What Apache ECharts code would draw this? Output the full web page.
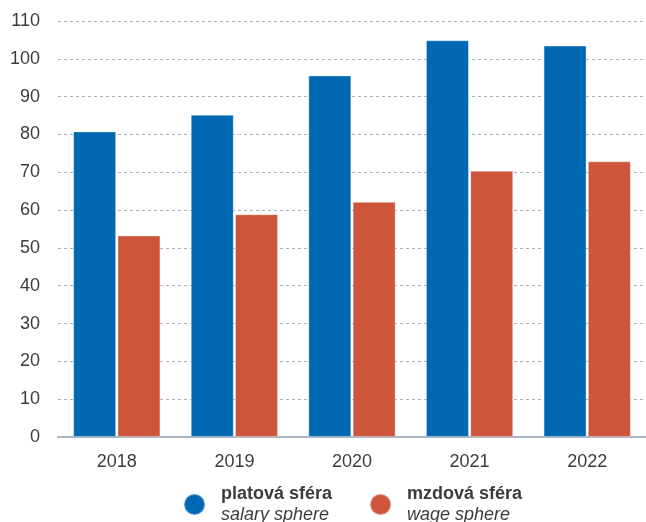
<!DOCTYPE html>
<html>
<head>
<meta charset="utf-8">
<script src="https://cdn.jsdelivr.net/npm/echarts@6/dist/echarts.min.js"></script>
<style>
  html, body { margin: 0; padding: 0; background: #fff; }
  #chart { width: 646px; height: 522px; }
</style>
</head>
<body>
<div id="chart"></div>
<script>
// years on the x axis
const years = ['2018', '2019', '2020', '2021', '2022'];
// salary sphere (platová sféra)
const salary = [80.8, 85.2, 95.6, 104.9, 103.5];
// wage sphere (mzdová sféra)
const wage = [53.3, 58.9, 62.2, 70.4, 72.9];

const names = ['platová sféra', 'mzdová sféra'];
const subNames = { 'platová sféra': 'salary sphere', 'mzdová sféra': 'wage sphere' };

const font = '"Liberation Sans", Arial, sans-serif';
const textColor = '#3c3c3c';

const chart = echarts.init(document.getElementById('chart'));
chart.setOption({
  animation: false,
  grid: { left: 58, right: 0, top: 21, bottom: 85, containLabel: false },
  legend: {
    data: names,
    left: 183,
    top: 485,
    padding: 0,
    icon: 'circle',
    itemWidth: 21,
    itemHeight: 21,
    itemGap: 37,
    formatter: name => '{a|' + name + '}\n{b|' + subNames[name] + '}',
    textStyle: {
      rich: {
        a: { fontFamily: font, fontSize: 18, fontWeight: 'bold', color: textColor, lineHeight: 21, padding: [0, 0, 0, 11] },
        b: { fontFamily: font, fontSize: 18, fontStyle: 'italic', color: textColor, lineHeight: 21, padding: [0, 0, 0, 11] }
      }
    }
  },
  xAxis: {
    type: 'category',
    data: years,
    axisLine: { lineStyle: { color: '#a9b5c1', width: 2 } },
    axisTick: { show: false },
    axisLabel: { fontFamily: font, fontSize: 18, color: textColor, margin: 16 }
  },
  yAxis: {
    type: 'value',
    min: 0,
    max: 110,
    interval: 10,
    axisLine: { show: false },
    axisTick: { show: false },
    axisLabel: { fontFamily: font, fontSize: 18, color: textColor, margin: 18 },
    splitLine: { lineStyle: { color: '#a5b1bd', type: [3, 3], width: 1 } }
  },
  series: [
    {
      name: names[0],
      type: 'bar',
      data: salary,
      barWidth: 43,
      barGap: '3%',
      itemStyle: { color: '#0068b3', borderColor: 'rgba(255,255,255,0.35)', borderWidth: 1 }
    },
    {
      name: names[1],
      type: 'bar',
      data: wage,
      barWidth: 43,
      barGap: '3%',
      itemStyle: { color: '#cc553b', borderColor: 'rgba(255,255,255,0.35)', borderWidth: 1 }
    }
  ]
});
</script>
</body>
</html>
